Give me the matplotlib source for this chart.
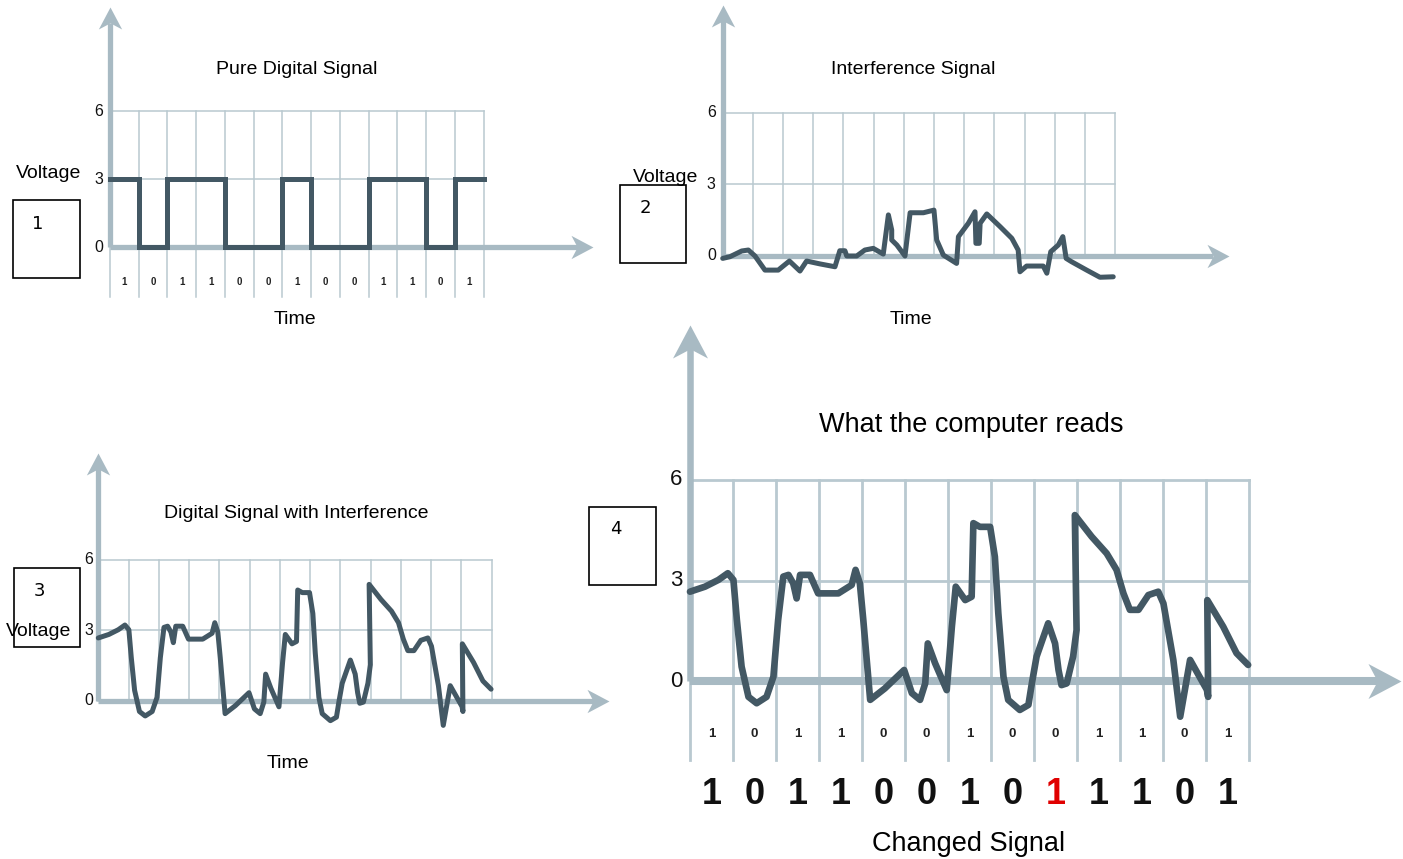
import numpy as np
import matplotlib
matplotlib.use("Agg")
import matplotlib.pyplot as plt
from matplotlib.path import Path
from matplotlib.patches import Rectangle

plt.rcParams["font.family"] = ["Liberation Sans", "DejaVu Sans"]

W, H = 1403, 859

# bits sent / bits read
BITS = [1, 0, 1, 1, 0, 0, 1, 0, 0, 1, 1, 0, 1]
READ_BITS = [1, 0, 1, 1, 0, 0, 1, 0, 1, 1, 1, 0, 1]

# panel 1: pure digital signal (step levels, last value repeated for the step end)
PURE_T = list(range(14))
PURE_V = [3, 0, 3, 3, 0, 0, 3, 0, 0, 3, 3, 0, 3, 3]

# panel 2: interference
NOISE_T = [0, 0.24, 0.63, 0.85, 1.07, 1.40, 1.84, 2.21, 2.56, 2.78, 3.22, 3.72, 3.88,
           4.05, 4.11, 4.44, 4.71, 4.99, 5.32, 5.49, 5.60, 5.60, 5.77, 6.04, 6.21, 6.65,
           7.00, 7.09, 7.31, 7.75, 7.81, 8.14, 8.36, 8.39, 8.50, 8.53, 8.75, 9.19, 9.58,
           9.79, 9.85, 10.07, 10.62, 10.74, 10.87, 11.12, 11.27, 11.38, 11.56, 12.06,
           12.50, 12.94]
NOISE_V = [-0.10, -0.03, 0.21, 0.25, 0.00, -0.59, -0.59, -0.21, -0.63, -0.21, -0.33,
           -0.45, 0.22, 0.22, 0.00, 0.00, 0.25, 0.32, 0.08, 1.72, 1.09, 0.67, 0.46, 0.00,
           1.81, 1.81, 1.92, 0.67, 0.04, -0.31, 0.81, 1.37, 1.85, 0.53, 0.53, 1.37, 1.76,
           1.23, 0.74, 0.25, -0.66, -0.42, -0.42, -0.72, 0.18, 0.46, 0.81, -0.10, -0.24,
           -0.59, -0.89, -0.87]

# panels 3 and 4: signal with interference
MIXED_T = [0, 0.35, 0.66, 0.88, 1.01, 1.09, 1.20, 1.36, 1.55, 1.78, 1.94, 2.05, 2.17,
           2.29, 2.40, 2.48, 2.56, 2.79, 2.98, 3.45, 3.76, 3.85, 3.95, 4.03, 4.19, 4.53,
           4.98, 5.16, 5.35, 5.47, 5.53, 5.70, 5.97, 6.09, 6.18, 6.40, 6.55, 6.59, 6.74,
           6.98, 7.09, 7.17, 7.29, 7.40, 7.67, 7.87, 7.95, 8.06, 8.33, 8.49, 8.57, 8.64,
           8.76, 8.91, 8.99, 8.95, 9.34, 9.69, 9.92, 10.08, 10.23, 10.43, 10.66, 10.89,
           11.01, 11.24, 11.40, 11.63, 12.02, 12.05, 12.03, 12.40, 12.71, 12.98]
MIXED_V = [2.67, 2.82, 3.02, 3.22, 3.02, 1.83, 0.44, -0.46, -0.65, -0.46, 0.14, 1.83,
           3.12, 3.17, 2.92, 2.47, 3.17, 3.17, 2.62, 2.62, 2.87, 3.32, 2.92, 1.83, -0.55,
           -0.21, 0.34, -0.35, -0.55, -0.06, 1.13, 0.54, -0.26, 1.63, 2.82, 2.42, 2.52,
           4.71, 4.60, 4.60, 3.71, 2.03, 0.14, -0.55, -0.85, -0.70, -0.06, 0.74, 1.73,
           1.13, 0.34, -0.11, -0.06, 0.74, 1.53, 4.95, 4.31, 3.81, 3.32, 2.62, 2.13, 2.13,
           2.57, 2.67, 2.32, 0.64, -1.05, 0.64, -0.25, -0.46, 2.42, 1.63, 0.84, 0.49]

VOLT_TICKS = [0, 3, 6]

SIGNAL = "#435864"
AXIS = "#a8bac3"
GRID = "#b9c9d0"

HEAD_RIGHT = Path([(0, 0), (-1, 0.53), (-0.72, 0), (-1, -0.53), (0, 0)],
                  [Path.MOVETO, Path.LINETO, Path.LINETO, Path.LINETO, Path.CLOSEPOLY])
HEAD_UP = Path([(0, 0), (0.53, -1), (0, -0.72), (-0.53, -1), (0, 0)],
               [Path.MOVETO, Path.LINETO, Path.LINETO, Path.LINETO, Path.CLOSEPOLY])

fig = plt.figure(figsize=(W / 100, H / 100), dpi=100)


def make_panel(x0, sx, y0, sy):
    # full-figure axes; x in bit periods, y in volts
    ax = fig.add_axes([0, 0, 1, 1])
    ax.set_xlim(-x0 / sx, (W - x0) / sx)
    ax.set_ylim((y0 - H) / sy, y0 / sy)
    ax.set_axis_off()
    ax.sx, ax.sy = sx, sy
    return ax


def draw_frame(ax, x_end, y_end, grid_bottom, grid_lw, axis_lw_x, axis_lw_y, head_px,
               tick_size, tick_off):
    for x in range(14):
        ax.plot([x, x], [grid_bottom, 6], color=GRID, lw=grid_lw, zorder=1)
    for y in VOLT_TICKS[1:]:
        ax.plot([0, 13], [y, y], color=GRID, lw=grid_lw, zorder=1)
    ax.plot([0, x_end - 0.7 * head_px / ax.sx], [0, 0], color=AXIS, lw=axis_lw_x,
            solid_capstyle="butt", zorder=2)
    ax.plot([0, 0], [0, y_end - 0.7 * head_px / ax.sy], color=AXIS, lw=axis_lw_y,
            solid_capstyle="butt", zorder=2)
    ms = 2 * head_px * 0.72
    ax.plot([x_end], [0], marker=HEAD_RIGHT, ms=ms, color=AXIS, mew=0, zorder=2)
    ax.plot([0], [y_end], marker=HEAD_UP, ms=ms, color=AXIS, mew=0, zorder=2)
    for v in VOLT_TICKS:
        ax.annotate(str(v), xy=(0, v), xytext=(-tick_off, 0), textcoords="offset points",
                    ha="right", va="center", fontsize=tick_size, color="#111111")


def ftext(xp, yp, s, **kw):
    kw.setdefault("ha", "center")
    kw.setdefault("va", "center")
    fig.text(xp / W, 1 - yp / H, s, **kw)


def num_box(x1, y1, x2, y2, label, lx, ly):
    fig.add_artist(Rectangle((x1 / W, 1 - y2 / H), (x2 - x1) / W, (y2 - y1) / H,
                             transform=fig.transFigure, fill=False, lw=1.2,
                             ec="black", zorder=10))
    ftext(lx, ly, label, fontsize=13, family="DejaVu Sans")


# ---- panel 1: pure digital signal
ax1 = make_panel(110, 28.74, 247, 22.6)
draw_frame(ax1, 16.82, 10.6, -2.2, 1.1, 3.8, 3.8, 22, 11.5, 5)
ax1.plot(PURE_T, PURE_V, drawstyle="steps-post", color=SIGNAL, lw=3.6,
         solid_joinstyle="miter", zorder=3)
for i, b in enumerate(BITS):
    ax1.text(i + 0.5, -1.55, str(b), ha="center", va="center", fontsize=7,
             fontweight="bold", color="#222222")
ftext(296.6, 70, "Pure Digital Signal", fontsize=14)
ftext(16, 173, "Voltage", ha="left", fontsize=14)
ftext(295, 320, "Time", fontsize=14)

# ---- panel 2: interference
ax2 = make_panel(722.7, 30.18, 256, 23.9)
draw_frame(ax2, 16.76, 10.5, 0, 1.1, 3.8, 3.8, 22, 11.5, 5)
ax2.plot(NOISE_T, NOISE_V, color=SIGNAL, lw=3.6, solid_joinstyle="round",
         solid_capstyle="round", zorder=3)
ftext(913.5, 70, "Interference Signal", fontsize=14)
ftext(633, 178, "Voltage", ha="left", fontsize=14)
ftext(911, 320, "Time", fontsize=14)

# ---- panel 3: signal + interference
ax3 = make_panel(98.3, 30.26, 700.7, 23.5)
draw_frame(ax3, 16.88, 10.54, 0, 1.1, 3.8, 3.8, 22, 11.5, 3.5)
ax3.plot(MIXED_T, MIXED_V, color=SIGNAL, lw=3.6, solid_joinstyle="round",
         solid_capstyle="round", zorder=3)
ftext(295.8, 513.3, "Digital Signal with Interference", fontsize=14)
ftext(6, 631, "Voltage", ha="left", fontsize=14)
ftext(288, 763, "Time", fontsize=14)

# ---- panel 4: what the computer reads
ax4 = make_panel(690, 43.0, 681.4, 33.6)
draw_frame(ax4, 16.53, 10.6, -2.34, 2.0, 5.8, 4.7, 33, 16, 5.5)
ax4.plot(MIXED_T, MIXED_V, color=SIGNAL, lw=4.8, solid_joinstyle="round",
         solid_capstyle="round", zorder=3)
for i, (b, r) in enumerate(zip(BITS, READ_BITS)):
    ax4.text(i + 0.5, -1.57, str(b), ha="center", va="center", fontsize=9.5,
             fontweight="bold", color="#222222")
    ax4.text(i + 0.5, -3.36, str(r), ha="center", va="center", fontsize=26,
             fontweight="bold", color="#e00000" if r != b else "#111111")
ftext(971, 425, "What the computer reads", fontsize=19.5)
ftext(968.5, 844, "Changed Signal", fontsize=19.5)

# numbered boxes
num_box(13.4, 200, 80, 278, "1", 38, 224)
num_box(620, 185, 686, 263, "2", 645, 208)
num_box(13.8, 568.3, 80, 646.7, "3", 39.5, 591)
num_box(589.4, 507.4, 656, 585.4, "4", 616, 529)

fig.savefig("out.png", dpi=100)
